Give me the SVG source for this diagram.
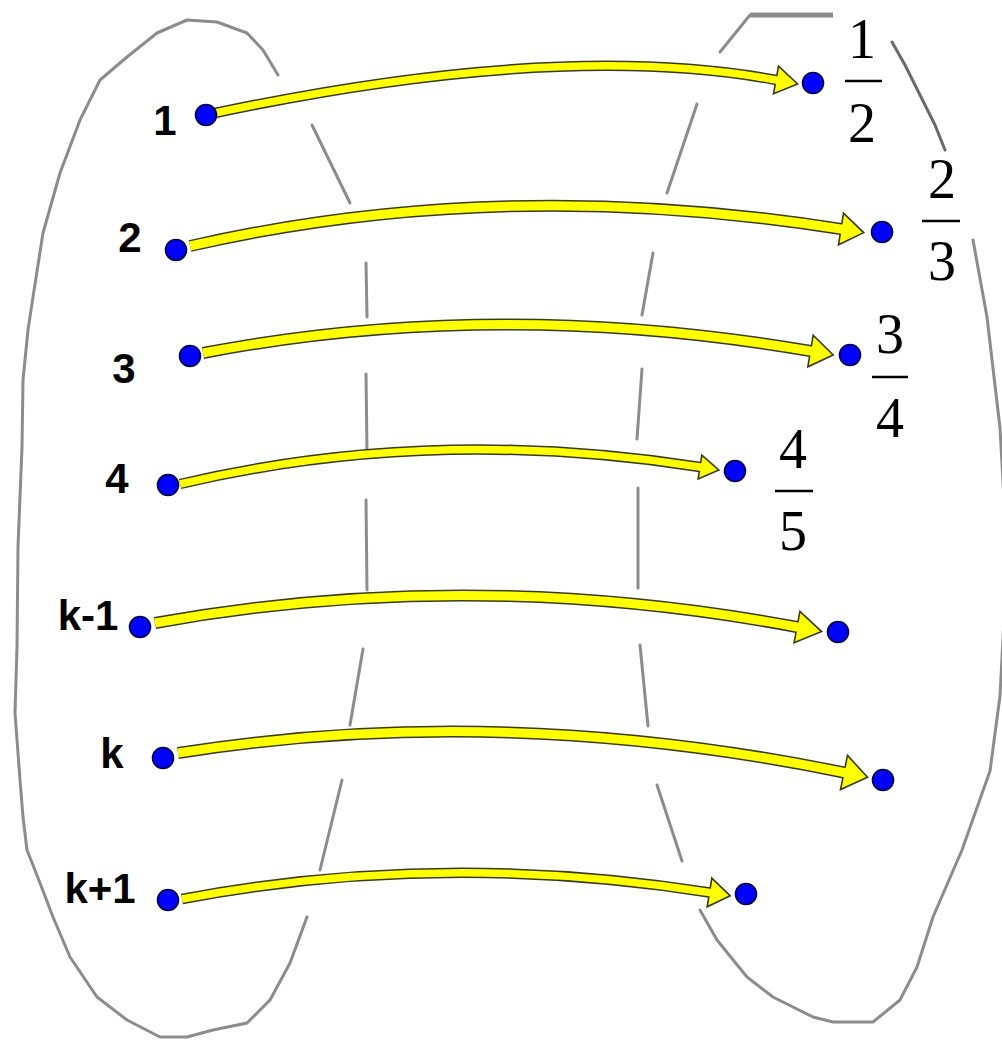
<svg xmlns="http://www.w3.org/2000/svg" width="1002" height="1044" viewBox="0 0 1002 1044">
<style>
.outline{fill:none;stroke:#8c8c8c;stroke-width:3;stroke-linejoin:round;stroke-linecap:round}
.dark{stroke:#6a6a6a}
.so{fill:none;stroke:#3a3a1a;stroke-width:12;stroke-linecap:butt}
.sy{fill:none;stroke:#ffff00;stroke-width:9;stroke-linecap:butt}
.thin .so{stroke-width:10.5}
.thin .sy{stroke-width:7.5}
.head{fill:#ffff00;stroke:#3a3a1a;stroke-width:1.6;stroke-linejoin:miter}
.dot{fill:#0000ff;stroke:#000040;stroke-width:1.6}
.lbl{font-family:"Liberation Sans",Arial,sans-serif;font-weight:bold;font-size:42px;fill:#000;text-anchor:middle}
.frac{font-family:"Liberation Serif","Times New Roman",serif;font-size:56px;fill:#000;text-anchor:middle}
.bar{stroke:#000;stroke-width:2.5}
</style>
<rect width="1002" height="1044" fill="#ffffff"/>
<g id="domain-outline">
<path class="outline" d="M278,75 L263,50 L247,33 L217,22 L187,20 L157,33 L127,57 L100,80 L80,120 L60,173 L43,233 L33,297 L28,330 L23,380 L22,447 L18,547 L17,647 L15,713 L20,780 L23,817 L27,850 L40,883 L53,917 L70,957 L97,997 L127,1020 L160,1037 L187,1037 L213,1030 L247,1023 L270,1000 L290,963 L307,917"/>
<path class="outline" d="M312,125 L350,203"/>
<path class="outline" d="M366,263 L367,317"/>
<path class="outline" d="M366,374 L367,452"/>
<path class="outline" d="M366,500 L367,590"/>
<path class="outline" d="M363,649 L350,725"/>
<path class="outline" d="M342,780 L320,870"/>
</g>
<g id="codomain-outline">
<path class="outline" d="M720,52 L750,15"/>
<path class="outline" style="stroke-width:5;stroke-linecap:butt" d="M750,15 L833,15"/>
<path class="outline" d="M697,104 L667,193"/>
<path class="outline" d="M653,253 L642,315"/>
<path class="outline" d="M642,369 L637,439"/>
<path class="outline" d="M638,488 L638,588"/>
<path class="outline" d="M640,645 L648,726"/>
<path class="outline" d="M657,785 L682,861"/>
<path class="outline dark" d="M892,42 L905,65 L920,95 L935,125 L945,150"/>
<path class="outline" d="M973,240 L987,317 L1000,428 L1004,500 L1005,600 L1000,696 L990,771 L962,850 L933,917 L917,967 L900,1000 L873,1022 L833,1022 L813,1017 L773,997 L747,977 L717,940 L700,910"/>
</g>
<g id="connectors">
<g id="arrow-1" class="thin">
<path class="so" d="M215,113 Q560,40 776,80 L779,80.5"/>
<polygon class="head" points="778.5,66.2 797.6,84 773.5,93.8"/>
<path class="sy" d="M215,113 Q560,40 776,80 L779,80.5"/>
</g>
<g id="arrow-2">
<path class="so" d="M190,246 Q500,175 841,229 L844,229.5"/>
<polygon class="head" points="843.5,213.2 863.7,232.6 838.5,244.8"/>
<path class="sy" d="M190,246 Q500,175 841,229 L844,229.5"/>
</g>
<g id="arrow-3">
<path class="so" d="M203,353 Q495,297 810.5,351 L813.5,351.5"/>
<polygon class="head" points="813.2,335.2 833.2,354.9 807.8,366.8"/>
<path class="sy" d="M203,353 Q495,297 810.5,351 L813.5,351.5"/>
</g>
<g id="arrow-4" class="thin">
<path class="so" d="M180,484 Q430,425 700,467 L703,467.5"/>
<polygon class="head" points="701.8,455.1 718.8,469.9 698.2,478.9"/>
<path class="sy" d="M180,484 Q430,425 700,467 L703,467.5"/>
</g>
<g id="arrow-k-1">
<path class="so" d="M155,623 Q470,566 797,627 L800,627.5"/>
<polygon class="head" points="799.9,611.3 821.6,631.6 794.1,642.7"/>
<path class="sy" d="M155,623 Q470,566 797,627 L800,627.5"/>
</g>
<g id="arrow-k">
<path class="so" d="M178,753 Q500,702 844,772.5 L847,773.1"/>
<polygon class="head" points="847.5,755.4 867.5,777.3 840.5,789.6"/>
<path class="sy" d="M178,753 Q500,702 844,772.5 L847,773.1"/>
</g>
<g id="arrow-k+1" class="thin">
<path class="so" d="M182,899 Q440,850 709.5,892.5 L712.5,893"/>
<polygon class="head" points="711.8,878.2 730.2,895.8 707.2,906.8"/>
<path class="sy" d="M182,899 Q440,850 709.5,892.5 L712.5,893"/>
</g>
</g>
<g id="node-1"><circle class="dot" cx="206" cy="115" r="10.5"/><text class="lbl" x="165" y="135">1</text></g>
<g id="node-2"><circle class="dot" cx="176" cy="250" r="10.5"/><text class="lbl" x="130" y="252">2</text></g>
<g id="node-3"><circle class="dot" cx="190" cy="356" r="10.5"/><text class="lbl" x="124" y="383">3</text></g>
<g id="node-4"><circle class="dot" cx="168" cy="485" r="10.5"/><text class="lbl" x="117" y="493">4</text></g>
<g id="node-k-1"><circle class="dot" cx="140" cy="627" r="10.5"/><text class="lbl" x="88" y="630">k-1</text></g>
<g id="node-k"><circle class="dot" cx="163" cy="758" r="10.5"/><text class="lbl" x="112" y="768">k</text></g>
<g id="node-k+1"><circle class="dot" cx="168" cy="900" r="10.5"/><text class="lbl" x="100" y="903">k+1</text></g>
<g id="node-half"><circle class="dot" cx="813" cy="83" r="10.5"/><text class="frac" x="862" y="58">1</text><line class="bar" x1="845" y1="81" x2="882" y2="81"/><text class="frac" x="862" y="142">2</text></g>
<g id="node-two-thirds"><circle class="dot" cx="882" cy="232" r="10.5"/><text class="frac" x="942" y="198">2</text><line class="bar" x1="922" y1="221" x2="960" y2="221"/><text class="frac" x="942" y="280">3</text></g>
<g id="node-three-quarters"><circle class="dot" cx="850" cy="355" r="10.5"/><text class="frac" x="890" y="353">3</text><line class="bar" x1="872" y1="377" x2="908" y2="377"/><text class="frac" x="890" y="437">4</text></g>
<g id="node-four-fifths"><circle class="dot" cx="735" cy="471" r="10.5"/><text class="frac" x="793" y="468">4</text><line class="bar" x1="775" y1="491" x2="813" y2="491"/><text class="frac" x="793" y="550">5</text></g>
<g id="node-r5"><circle class="dot" cx="838" cy="632" r="10.5"/></g>
<g id="node-r6"><circle class="dot" cx="883" cy="780" r="10.5"/></g>
<g id="node-r7"><circle class="dot" cx="746" cy="894" r="10.5"/></g>
</svg>
